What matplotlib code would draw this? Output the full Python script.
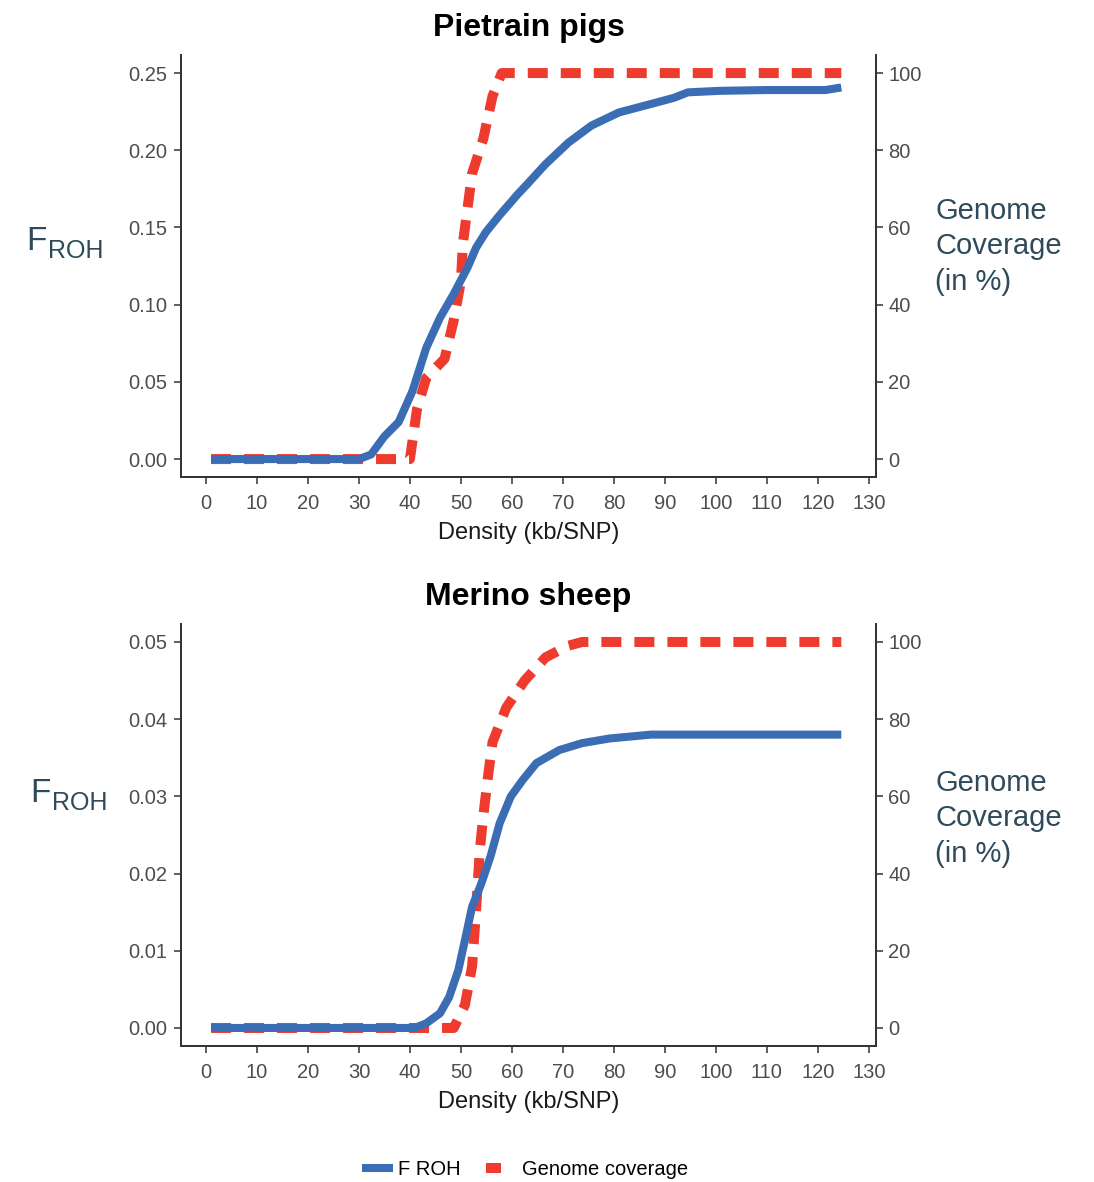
import matplotlib
matplotlib.use("Agg")
import matplotlib.pyplot as plt
from matplotlib.lines import Line2D

plt.rcParams['font.family'] = ['Liberation Sans', 'DejaVu Sans']

# ---- Pietrain pigs ----
pig_froh_x = [1, 30, 30.6, 32.4, 35, 37.8, 40.5, 43.2, 45.9, 48.6, 51.3, 53, 54.9, 57.6, 61.2,
              63, 66.6, 71.1, 75.6, 81, 87.3, 91.8, 94.5, 100.8, 109.8, 121.5, 124.6]
pig_froh_y = [0, 0, 0.0007, 0.003, 0.0147, 0.024, 0.044, 0.072, 0.0915, 0.107, 0.124, 0.137,
              0.147, 0.158, 0.1717, 0.178, 0.191, 0.205, 0.216, 0.2245, 0.230, 0.234, 0.2375,
              0.2385, 0.239, 0.239, 0.2407]
pig_cov_x = [1, 40, 41.4, 43.2, 46.8, 48.6, 50, 50.4, 51.3, 52.2, 54.4, 56.2, 58, 124.6]
pig_cov_y = [0, 0, 13, 21, 26, 36, 46, 56, 65, 74, 83, 94, 100, 100]

# ---- Merino sheep ----
sheep_froh_x = [1, 40.9, 43.2, 45.9, 47.7, 49.5, 50.8, 52.2, 54, 55.8, 57.6, 59.8, 62.1, 64.8,
                69.3, 73.8, 79.2, 87.3, 124.6]
sheep_froh_y = [0, 0, 0.0006, 0.0019, 0.004, 0.0075, 0.0114, 0.0157, 0.0187, 0.0222, 0.0265,
                0.030, 0.0321, 0.0343, 0.036, 0.0369, 0.0375, 0.0380, 0.0380]
sheep_cov_x = [1, 48.6, 50.8, 52.2, 53, 53.7, 54.4, 55.3, 56.2, 58.9, 62.5, 66.6, 71, 73.8, 124.6]
sheep_cov_y = [0, 0, 6, 16, 31, 46, 55, 65, 74, 83, 90, 96, 99, 100, 100]

x_ticks = list(range(0, 131, 10))
pig_yticks = [0.00, 0.05, 0.10, 0.15, 0.20, 0.25]
sheep_yticks = [0.00, 0.01, 0.02, 0.03, 0.04, 0.05]
cov_ticks = [0, 20, 40, 60, 80, 100]

blue = "#3a6db3"
red = "#ee3b2e"
lab_col = "#2f4b5b"
tick_col = "#4d4d4d"

fig = plt.figure(figsize=(10.94, 11.82), dpi=100)

panels = [
    ("Pietrain pigs", 0.5964, pig_froh_x, pig_froh_y, pig_cov_x, pig_cov_y, pig_yticks, 0.25),
    ("Merino sheep", 0.1151, sheep_froh_x, sheep_froh_y, sheep_cov_x, sheep_cov_y, sheep_yticks, 0.05),
]

for title, bottom, fx, fy, cx, cy, yt, ymax in panels:
    ax = fig.add_axes([0.1654, bottom, 0.6353, 0.357])
    ax2 = ax.twinx()
    ax.plot(fx, fy, color=blue, lw=5.8, solid_capstyle='butt', solid_joinstyle='round', zorder=2)
    ax2.plot(cx, cy, color=red, lw=7.2, dashes=(2.0, 1.3), dash_capstyle='butt', zorder=3)
    pad = ymax * 0.0466
    ax.set_ylim(-pad, ymax + pad)
    ax2.set_ylim(-4.66, 104.66)
    ax.set_xlim(-4.9, 131.4)
    ax.set_xticks(x_ticks)
    ax.set_yticks(yt)
    ax.set_yticklabels(["%.2f" % v for v in yt])
    ax2.set_yticks(cov_ticks)
    for a in (ax, ax2):
        a.spines['top'].set_visible(False)
        for s in ('left', 'right', 'bottom'):
            a.spines[s].set_color("#333333")
            a.spines[s].set_linewidth(1.3)
        a.tick_params(length=5, width=1.1, color="#333333", labelcolor=tick_col, labelsize=14.5)
    ax.tick_params(axis='x', pad=7)
    ax.tick_params(axis='y', pad=5)
    ax2.tick_params(axis='y', pad=4)
    ax.set_zorder(ax2.get_zorder() + 1)
    ax.patch.set_visible(False)
    ax.set_xlabel("Density (kb/SNP)", fontsize=17, color="#1a1a1a", labelpad=7)
    ax.set_title(title, fontsize=23, fontweight='bold', pad=14)

# y-axis labels F_ROH as free text
for fx_, rx_, fb, rb in ((0.0238, 0.0439, 0.7885, 0.7817), (0.0274, 0.0475, 0.3215, 0.3147)):
    fig.text(fx_, fb, "F", fontsize=24, color=lab_col, va='baseline')
    fig.text(rx_, rb, "ROH", fontsize=18, color=lab_col, va='baseline')

for ytxt in (0.8333, 0.3494):
    fig.text(0.855, ytxt, "Genome\nCoverage\n(in %)", fontsize=21, color=lab_col,
             va='top', ha='left', linespacing=1.33)

handles = [Line2D([], [], color=blue, lw=5.8, solid_capstyle='butt'),
           Line2D([], [], color=red, lw=7.2, dashes=(1.5, 10), dash_capstyle='butt')]
fig.legend(handles, ["F ROH", "Genome coverage"], loc='lower center', bbox_to_anchor=(0.48, -0.013),
           ncol=2, frameon=False, fontsize=14.5, handlelength=1.5, handletextpad=0.25,
           columnspacing=1.3)

fig.savefig("out.png", dpi=100)
